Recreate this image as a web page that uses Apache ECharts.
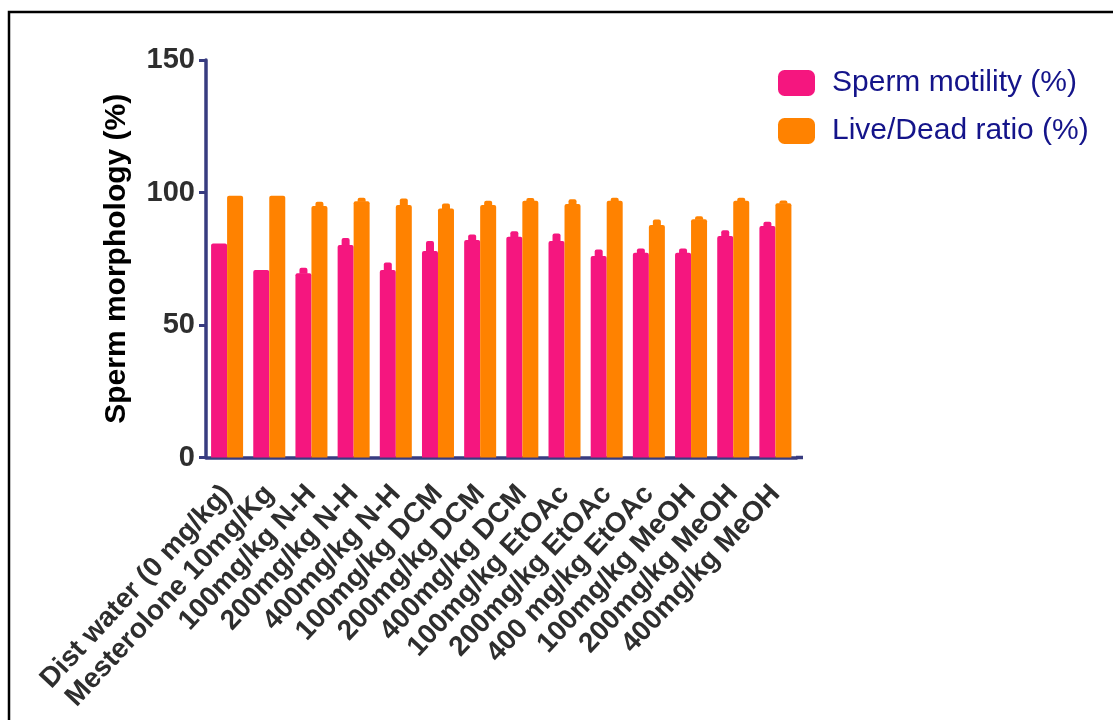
<!DOCTYPE html>
<html>
<head>
<meta charset="utf-8">
<script src="https://cdn.jsdelivr.net/npm/echarts@6/dist/echarts.min.js"></script>
<style>
  html, body { margin: 0; padding: 0; background: #ffffff; }
  #chart { width: 1113px; height: 720px; }
</style>
</head>
<body>
<div id="chart"></div>
<script>
// Treatment groups
var categories = [
  'Dist water (0 mg/kg)', 'Mesterolone 10mg/Kg',
  '100mg/kg N-H', '200mg/kg N-H', '400mg/kg N-H',
  '100mg/kg DCM', '200mg/kg DCM', '400mg/kg DCM',
  '100mg/kg EtOAc', '200mg/kg EtOAc', '400 mg/kg EtOAc',
  '100mg/kg MeOH', '200mg/kg MeOH', '400mg/kg MeOH'
];

// Group means (%)
var motility = [80.8, 70.8, 69.5, 80.2, 70.8, 77.9, 82.1, 83.3, 81.7, 76.0, 77.3, 77.3, 83.6, 87.4];
var liveDead = [98.8, 98.8, 94.9, 96.7, 95.3, 94.0, 95.3, 96.9, 95.7, 96.9, 87.7, 89.9, 96.9, 95.9];

// Upper error (SEM) for each group
var motilityErr = [0, 0, 1.5, 2.1, 2.2, 3.2, 1.5, 1.5, 2.3, 1.9, 1.0, 1.0, 1.6, 1.0];
var liveDeadErr = [0, 0, 1.0, 0.8, 1.9, 1.3, 1.0, 0.5, 1.2, 0.6, 1.5, 0.6, 0.6, 0.5];

// Axis ticks
var yTicks = { min: 0, max: 150, interval: 50 };

var PINK = '#F5167F';
var ORANGE = '#FF8200';
var AXIS = '#383C80';
var BAR_W = 16;
var FONT = 'Liberation Sans, Arial, sans-serif';

function errData(vals, errs) {
  return vals.map(function (v, i) { return [i, v, errs[i]]; });
}

// Upper error cap drawn above each bar, offset to that bar's half of the pair
function errRenderer(shift, color) {
  return function (params, api) {
    var i = api.value(0), v = api.value(1), e = api.value(2);
    if (!e) return null;
    var base = api.coord([i, v]);
    var top = api.coord([i, v + e]);
    var x = base[0] + shift;
    return {
      type: 'rect',
      shape: { x: x - 4, y: top[1] - 1.5, width: 8, height: base[1] - top[1] + 2, r: [2, 2, 0, 0] },
      style: { fill: color }
    };
  };
}

var chart = echarts.init(document.getElementById('chart'), null, { renderer: 'canvas' });

chart.setOption({
  backgroundColor: '#ffffff',
  animation: false,
  grid: { left: 206, top: 60, width: 590.5, height: 397.5, containLabel: false },
  legend: {
    orient: 'vertical',
    left: 778,
    top: 68,
    padding: 0,
    itemWidth: 37,
    itemHeight: 26,
    itemGap: 18,
    icon: 'roundRect',
    textStyle: {
      fontFamily: FONT,
      fontSize: 30,
      color: '#14148A',
      lineHeight: 26,
      padding: [0, 0, 0, 12]
    },
    data: ['Sperm motility (%)', 'Live/Dead ratio (%)']
  },
  xAxis: {
    type: 'category',
    data: categories,
    axisLine: { lineStyle: { color: AXIS, width: 3.5 } },
    axisTick: { alignWithLabel: true, length: 8, lineStyle: { color: AXIS, width: 3 } },
    axisLabel: {
      interval: 0,
      rotate: 47,
      margin: 32,
      fontFamily: FONT,
      fontWeight: 'bold',
      fontSize: 28,
      color: '#2e2e2e',
      hideOverlap: false
    }
  },
  yAxis: {
    type: 'value',
    min: yTicks.min,
    max: yTicks.max,
    interval: yTicks.interval,
    name: 'Sperm morphology (%)',
    nameLocation: 'middle',
    nameRotate: 90,
    nameGap: 74,
    nameTextStyle: {
      fontFamily: FONT,
      fontWeight: 'bold',
      fontSize: 30,
      color: '#000000'
    },
    splitLine: { show: false },
    axisLine: { show: true, lineStyle: { color: AXIS, width: 3.5 } },
    axisTick: { show: true, length: 7, lineStyle: { color: AXIS, width: 3 } },
    axisLabel: {
      margin: 11,
      fontFamily: FONT,
      fontWeight: 'bold',
      fontSize: 29,
      color: '#2e2e2e'
    }
  },
  series: [
    {
      name: 'Sperm motility (%)',
      type: 'bar',
      data: motility,
      barWidth: BAR_W,
      barGap: '0%',
      itemStyle: { color: PINK, borderRadius: [2, 2, 0, 0] },
      z: 2
    },
    {
      name: 'Live/Dead ratio (%)',
      type: 'bar',
      data: liveDead,
      barWidth: BAR_W,
      barGap: '0%',
      itemStyle: { color: ORANGE, borderRadius: [2, 2, 0, 0] },
      z: 2
    },
    {
      type: 'custom',
      data: errData(motility, motilityErr),
      renderItem: errRenderer(-BAR_W / 2, PINK),
      encode: { x: 0, y: 1 },
      z: 3,
      silent: true
    },
    {
      type: 'custom',
      data: errData(liveDead, liveDeadErr),
      renderItem: errRenderer(BAR_W / 2, ORANGE),
      encode: { x: 0, y: 1 },
      z: 3,
      silent: true
    }
  ],
  graphic: [
    // outer frame (left and top edges)
    {
      type: 'polyline',
      shape: { points: [[9, 720], [9, 12], [1113, 12]] },
      style: { stroke: '#000000', lineWidth: 2.5, fill: null },
      silent: true
    },
    // short run-out of the category axis past the last group
    {
      type: 'line',
      shape: { x1: 796, y1: 457.5, x2: 803, y2: 457.5 },
      style: { stroke: AXIS, lineWidth: 3.5 },
      silent: true
    }
  ]
});
</script>
</body>
</html>
